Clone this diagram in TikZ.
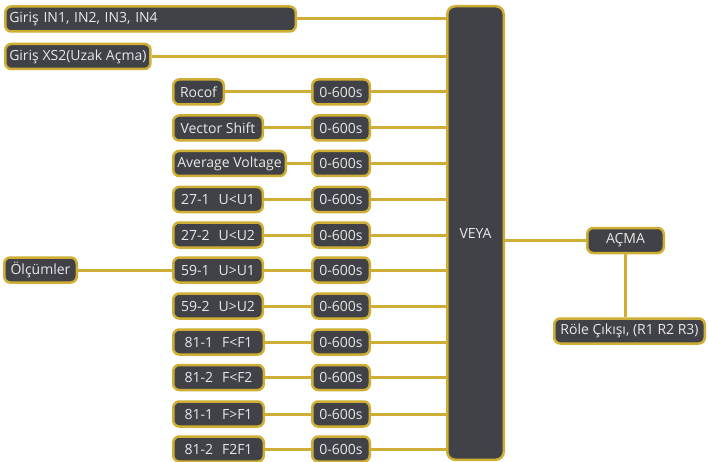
\documentclass[tikz,border=0pt]{standalone}
\usepackage{fontspec}
\setmainfont{Open Sans}
\definecolor{gold}{RGB}{206,174,52}
\definecolor{boxfill}{RGB}{65,66,71}
\definecolor{txt}{RGB}{232,232,232}
\begin{document}
\begin{tikzpicture}[x=1pt,y=-1pt,
  box/.style={draw=gold, fill=boxfill, line width=2.5pt, rounded corners=6pt,
    text=txt, font=\fontsize{14}{16}\selectfont, inner xsep=4pt, inner ysep=0pt,
    minimum height=25pt},
  lbox/.style={box, anchor=west},
  tbox/.style={box, minimum width=57.5pt},
  link/.style={draw=gold, line width=3pt}]
\useasboundingbox (0,0) rectangle (708,462);

\node[box, minimum width=56.5pt, minimum height=453.5pt, rounded corners=8pt] (veya) at (475.5,233) {\raisebox{-5pt}{VEYA}};

\node[lbox, text width=282.5pt, align=left] (in1) at (4,19) {Giriş IN1, IN2, IN3, IN4};
\node[lbox, minimum width=143.5pt] (xs2) at (4,56.5) {Giriş XS2(Uzak Açma)};
\node[lbox, minimum width=72.5pt] (olc) at (3,270) {Ölçümler};

\node[lbox, minimum width=50.5pt] (r1) at (172,92) {Rocof};
\node[lbox, minimum width=89.5pt] (r2) at (172,128) {Vector Shift};
\node[lbox, minimum width=112.5pt] (r3) at (172,163.5) {Average Voltage};
\node[lbox, minimum width=89.5pt] (r4) at (172,199.5) {27-1\hspace{9pt}U<U1};
\node[lbox, minimum width=89.5pt] (r5) at (172,235) {27-2\hspace{9pt}U<U2};
\node[lbox, minimum width=89.5pt] (r6) at (172,270) {59-1\hspace{9pt}U>U1};
\node[lbox, minimum width=89.5pt] (r7) at (172,306) {59-2\hspace{9pt}U>U2};
\node[lbox, minimum width=90.5pt] (r8) at (172,342) {81-1\hspace{9pt}F<F1};
\node[lbox, minimum width=90.5pt] (r9) at (172,377.5) {81-2\hspace{9pt}F<F2};
\node[lbox, minimum width=90.5pt] (r10) at (172,414) {81-1\hspace{9pt}F>F1};
\node[lbox, minimum width=90.5pt] (r11) at (172,449) {81-2\hspace{9pt}F2F1};

\foreach \i/\y in {1/92,2/128,3/163.5,4/199.5,5/235,6/270,7/306,8/342,9/377.5,10/414,11/449}{
  \node[tbox] (t\i) at (341,\y) {0-600s};
  \draw[link] (r\i.east) -- (t\i.west);
  \draw[link] (t\i.east) -- (t\i.east -| veya.west);
}

\node[box, minimum width=76.5pt] (acma) at (625.5,240.5) {AÇMA};
\node[box, minimum width=150.5pt] (role) at (629.5,331) {Röle Çıkışı, (R1 R2 R3)};

\draw[link] (in1.east) -- (in1.east -| veya.west);
\draw[link] (xs2.east) -- (xs2.east -| veya.west);
\draw[link] (olc.east) -- (r6.west);
\draw[link] (acma.west -| veya.east) -- (acma.west);
\draw[link] (acma.south) -- (acma.south |- role.north);
\end{tikzpicture}
\end{document}
